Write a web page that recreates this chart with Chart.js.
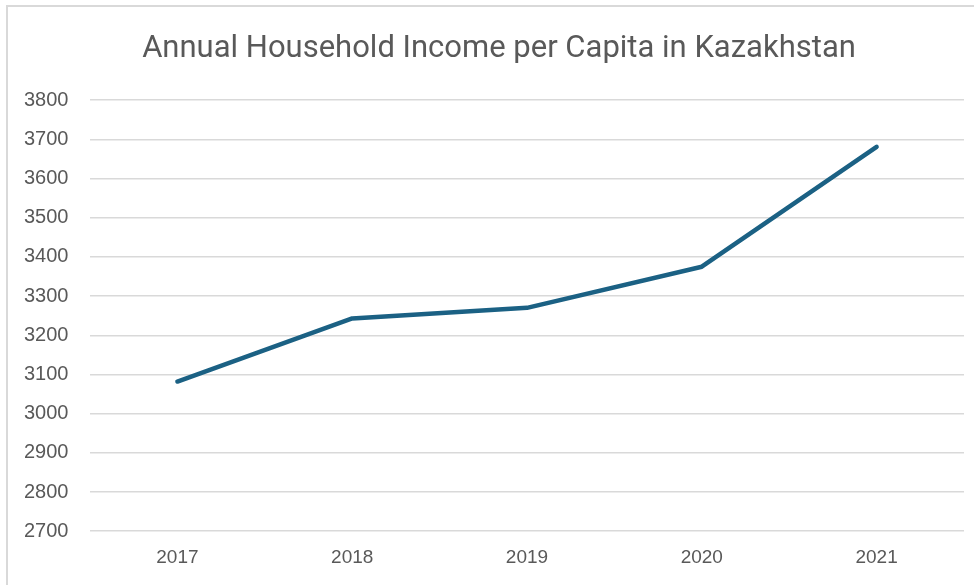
<!DOCTYPE html>
<html>
<head>
<meta charset="utf-8">
<script src="https://cdn.jsdelivr.net/npm/chart.js@4.4.1/dist/chart.umd.min.js"></script>
<style>
  html, body { margin: 0; padding: 0; background: #fff; overflow: hidden; }
  #box { position: absolute; left: 6px; top: 5px; width: 968px; height: 590px;
         border-left: 2px solid #d9d9d9; border-top: 2px solid #d9d9d9; }
  canvas { display: block; }
</style>
</head>
<body>
<div id="box"><canvas id="incomeChart" width="968" height="590"></canvas></div>
<script>
var years = ['2017', '2018', '2019', '2020', '2021'];
var incomePerCapita = [3082, 3243, 3270, 3375, 3681];
var yTicks = [2700, 2800, 2900, 3000, 3100, 3200, 3300, 3400, 3500, 3600, 3700, 3800];

var greyText = '#595959';

var dataForIncome = {
  labels: years,
  datasets: [{
    label: 'Income per capita',
    data: incomePerCapita,
    borderColor: '#1b6184',
    borderWidth: 4.5,
    borderCapStyle: 'round',
    borderJoinStyle: 'round',
    pointRadius: 0,
    tension: 0,
    fill: false
  }]
};

var optionsForIncome = {
  responsive: false,
  animation: false,
  layout: { padding: { left: 26, right: 12, top: 4, bottom: 21 } },
  plugins: {
    legend: { display: false },
    tooltip: { enabled: false },
    title: {
      display: true,
      text: 'Annual Household Income per Capita in Kazakhstan',
      color: greyText,
      font: { family: "'Liberation Sans Narrow', 'Roboto', sans-serif", size: 31, weight: 'normal' },
      padding: { top: 20, bottom: 32 }
    }
  },
  scales: {
    x: {
      offset: true,
      grid: { display: false },
      border: { display: false },
      ticks: { color: greyText, font: { family: "'Liberation Sans', Arial, sans-serif", size: 19 }, padding: 7 }
    },
    y: {
      min: 2700,
      max: 3800,
      afterBuildTicks: function (axis) { axis.ticks = yTicks.map(function (v) { return { value: v }; }); },
      afterFit: function (axis) { axis.width = 56; },
      grid: { color: '#d9d9d9', lineWidth: 1.5, drawTicks: false },
      border: { display: false },
      ticks: {
        color: greyText,
        font: { family: "'Liberation Sans', Arial, sans-serif", size: 20 },
        mirror: true,
        padding: -66,
        callback: function (value) { return String(value); }
      }
    }
  }
};

var ctxIncome = document.getElementById('incomeChart').getContext('2d');
var chartIncome = new Chart(ctxIncome, { type: 'line', data: dataForIncome, options: optionsForIncome });
</script>
</body>
</html>
